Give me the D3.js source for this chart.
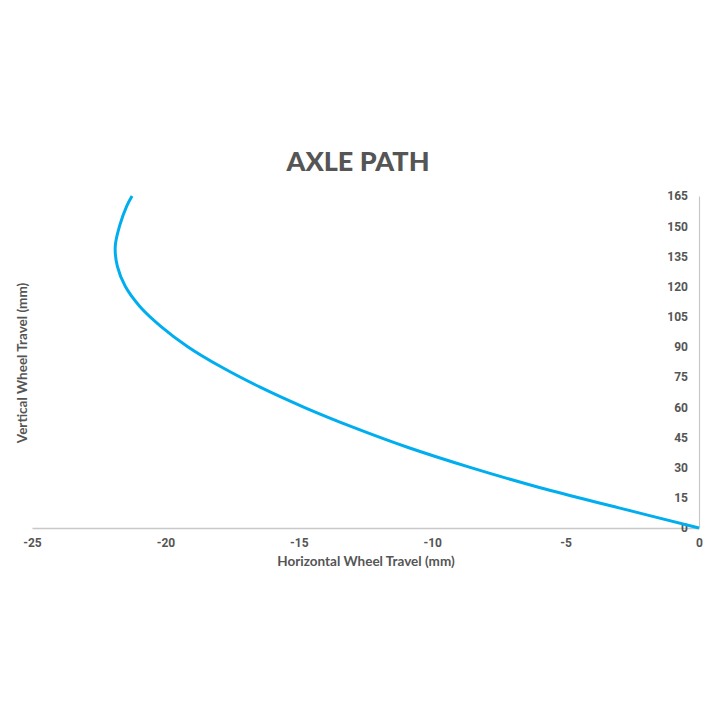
<!DOCTYPE html>
<html><head><meta charset="utf-8">
<script src="https://cdn.jsdelivr.net/npm/d3@7"></script>
<style>body{margin:0;background:#fff;} text{fill:#555;}</style>
</head><body>
<svg id="c" width="720" height="720"></svg>
<script>
const title = "AXLE PATH";
const xLabel = "Horizontal Wheel Travel (mm)";
const yLabel = "Vertical Wheel Travel (mm)";
const xTicks = [-25, -20, -15, -10, -5, 0];
const yTicks = [0, 15, 30, 45, 60, 75, 90, 105, 120, 135, 150, 165];
const vertical   = [0, 10, 20, 30, 40, 50, 60, 70, 80, 90, 100, 110, 120, 130, 140, 150, 160, 165];
const horizontal = [0, -3.0, -5.95, -8.55, -10.9, -12.95, -14.8, -16.45, -17.9, -19.15, -20.15, -20.95, -21.5, -21.8, -21.88, -21.72, -21.45, -21.25];

const svg = d3.select("#c");
const x = d3.scaleLinear().domain([-25, 0]).range([32, 699]);
const y = d3.scaleLinear().domain([0, 165]).range([528, 196]);

const titleFont = "Lato, 'DejaVu Sans', sans-serif";
svg.append("text").attr("x", 358).attr("y", 171).attr("text-anchor", "middle")
  .style("font-family", titleFont).style("font-weight", "900")
  .style("font-size", "27px").text(title);

// x axis
const xa = svg.append("g").attr("transform", `translate(0,${y(0)})`)
  .call(d3.axisBottom(x).tickValues(xTicks).tickSize(0).tickPadding(10).tickFormat(d => String(d)));
xa.select(".domain").attr("stroke", "#c8c8c8").attr("stroke-width", 1.5);
xa.selectAll("text").style("font-family", "Roboto, sans-serif").style("font-weight", "bold").style("font-size", "12px").style("fill", "#555");

// y axis
const ya = svg.append("g").attr("transform", `translate(${x(0)},0)`)
  .call(d3.axisLeft(y).tickValues(yTicks).tickSize(0).tickPadding(11).tickFormat(d => String(d)));
ya.select(".domain").attr("stroke", "#c8c8c8").attr("stroke-width", 1.2);
ya.selectAll("text").style("font-family", "Roboto, sans-serif").style("font-weight", "bold").style("font-size", "12px").style("fill", "#555");

const pts = vertical.map((v, i) => [horizontal[i], v]);
svg.append("path").datum(pts)
  .attr("fill", "none").attr("stroke", "#00aeef").attr("stroke-width", 3)
  .attr("d", d3.line().x(d => x(d[0])).y(d => y(d[1])).curve(d3.curveCatmullRom.alpha(0.5)));

svg.append("text").attr("x", 366).attr("y", 566).attr("text-anchor", "middle")
  .style("font-family", titleFont).style("font-weight", "bold")
  .style("font-size", "13.5px").text(xLabel);
svg.append("text").attr("transform", "translate(27,363) rotate(-90)").attr("text-anchor", "middle")
  .style("font-family", titleFont).style("font-weight", "bold")
  .style("font-size", "13.5px").text(yLabel);
</script>
</body></html>
